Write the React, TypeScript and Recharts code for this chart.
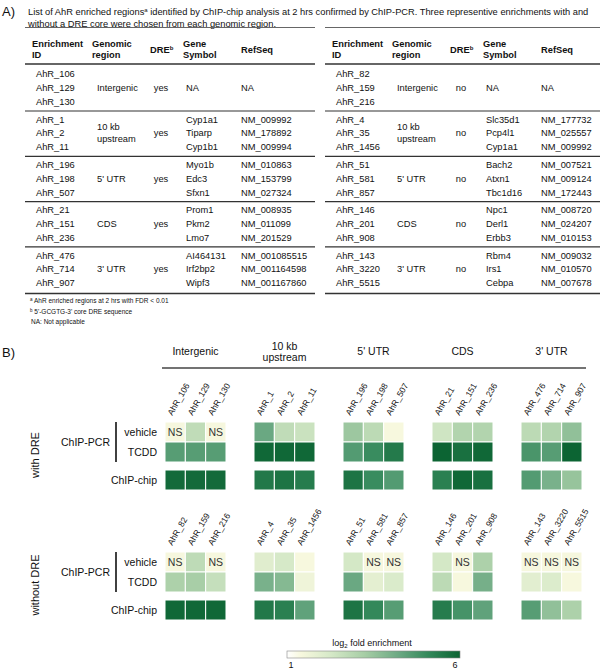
import React from "react";
import { ScatterChart, Scatter, XAxis, YAxis } from "recharts";

const FONT = "'Liberation Sans', Arial, Helvetica, sans-serif";

// genomic regions: table column and heatmap groups
const REGIONS = ["Intergenic", "10 kb\nupstream", "5' UTR", "CDS", "3' UTR"];
const ROW_NAMES = ["vehicle", "TCDD", "ChIP-chip"];

const DRE_IDS = ["AhR_106", "AhR_129", "AhR_130", "AhR_1", "AhR_2", "AhR_11", "AhR_196", "AhR_198", "AhR_507", "AhR_21", "AhR_151", "AhR_236", "AhR_476", "AhR_714", "AhR_907"];
const DRE_GENES = ["", "NA", "", "Cyp1a1", "Tiparp", "Cyp1b1", "Myo1b", "Edc3", "Sfxn1", "Prom1", "Pkm2", "Lmo7", "AI464131", "Irf2bp2", "Wipf3"];
const DRE_REFSEQ = ["", "NA", "", "NM_009992", "NM_178892", "NM_009994", "NM_010863", "NM_153799", "NM_027324", "NM_008935", "NM_011099", "NM_201529", "NM_001085515", "NM_001164598", "NM_001167860"];

const NODRE_IDS = ["AhR_82", "AhR_159", "AhR_216", "AhR_4", "AhR_35", "AhR_1456", "AhR_51", "AhR_581", "AhR_857", "AhR_146", "AhR_201", "AhR_908", "AhR_143", "AhR_3220", "AhR_5515"];
const NODRE_GENES = ["", "NA", "", "Slc35d1", "Pcp4l1", "Cyp1a1", "Bach2", "Atxn1", "Tbc1d16", "Npc1", "Derl1", "Erbb3", "Rbm4", "Irs1", "Cebpa"];
const NODRE_REFSEQ = ["", "NA", "", "NM_177732", "NM_025557", "NM_009992", "NM_007521", "NM_009124", "NM_172443", "NM_008720", "NM_024207", "NM_010153", "NM_009032", "NM_010570", "NM_007678"];

// log2 fold enrichment, null = NS
const DRE_VEHICLE = [null, 2.7, null, 4.25, 2.7, 2.5, 3.4, 2.8, 1.4, 2.4, 3.0, 3.0, 2.8, 3.0, 3.6];
const DRE_TCDD = [4.55, 4.55, 4.55, 5.9, 5.9, 5.9, 4.6, 5.0, 5.45, 6.0, 5.7, 5.9, 4.75, 4.55, 6.0];
const DRE_CHIP = [5.85, 5.85, 5.85, 5.5, 5.6, 5.4, 5.6, 5.0, 4.6, 5.3, 5.9, 5.7, 4.6, 4.0, 3.5];
const NODRE_VEHICLE = [null, 2.75, null, 2.0, 2.25, 1.4, 2.3, null, null, 2.3, null, 3.1, null, null, null];
const NODRE_TCDD = [3.1, 3.2, 2.6, 4.0, 3.8, 1.6, 4.25, 1.9, 2.15, 2.8, 1.4, 4.05, 1.95, 2.1, 1.4];
const NODRE_CHIP = [5.9, 5.9, 5.9, 5.5, 5.3, 4.4, 5.6, 5.1, 4.55, 5.4, 4.8, 4.4, 4.55, 3.6, 3.1];

const LEGEND_RANGE = [1, 6];

// colour ramp (white -> pale yellow -> green)
const STOPS: [number, string][] = [
  [0, "#ffffff"],
  [0.08, "#f7f8de"],
  [0.25, "#d6e9c8"],
  [0.45, "#a6cda5"],
  [0.65, "#6aa882"],
  [0.82, "#33885a"],
  [1, "#0c6433"],
];
const NS_FILL = "#f6f7de";

const hexRgb = (h: string) => [1, 3, 5].map((i) => parseInt(h.slice(i, i + 2), 16));

function colorFor(v: number) {
  const t = Math.max(0, Math.min(1, (v - LEGEND_RANGE[0]) / (LEGEND_RANGE[1] - LEGEND_RANGE[0])));
  for (let i = 1; i < STOPS.length; i++) {
    if (t <= STOPS[i][0]) {
      const [t0, c0] = STOPS[i - 1];
      const [t1, c1] = STOPS[i];
      const f = (t - t0) / (t1 - t0);
      const a = hexRgb(c0);
      const b = hexRgb(c1);
      return `rgb(${a.map((x, k) => Math.round(x + (b[k] - x) * f)).join(",")})`;
    }
  }
  return STOPS[STOPS.length - 1][1];
}

// heatmap layout
const GROUP_PITCH = 89 / 20.33;
const ROW_POS = [0, 1, 2.4];
const CELL_W = 20.33;
const CELL_H = 20;
const cellX = (i: number) => Math.floor(i / 3) * GROUP_PITCH + (i % 3);

const CellShape = (props: any) => {
  const { cx, cy, payload } = props;
  const ns = payload.v == null;
  return (
    <g>
      <rect
        x={cx - CELL_W / 2}
        y={cy - CELL_H / 2}
        width={CELL_W}
        height={CELL_H}
        fill={ns ? NS_FILL : colorFor(payload.v)}
        stroke="#ffffff"
        strokeWidth={1}
      />
      {ns && (
        <text x={cx} y={cy + 3.8} textAnchor="middle" fontSize={10.5} fontFamily={FONT} fill="#333">
          NS
        </text>
      )}
    </g>
  );
};

const RowTick = (props: any) => {
  const { x, y, payload } = props;
  return (
    <text x={x} y={y} dy={3.8} textAnchor="end" fontSize={10.5} fontFamily={FONT} fill="#111">
      {ROW_NAMES[ROW_POS.indexOf(payload.value)]}
    </text>
  );
};

function Heatmap({ ids, rows, top }: { ids: string[]; rows: (number | null)[][]; top: number }) {
  const data = rows.flatMap((vals, r) => vals.map((v, i) => ({ x: cellX(i), y: ROW_POS[r], v })));
  const ticks = ids.map((_, i) => cellX(i));
  const ColTick = (p: any) => {
    const label = ids[ticks.indexOf(p.payload.value)];
    const x = p.x - 3;
    return (
      <text x={x} y={p.y} transform={`rotate(-60, ${x}, ${p.y})`} fontSize={8.5} fontFamily={FONT} fill="#111">
        {label}
      </text>
    );
  };
  return (
    <div style={{ position: "absolute", left: 0, top }}>
      <ScatterChart width={600} height={125} margin={{ top: 12, right: 18, bottom: 5, left: 0 }}>
        <XAxis
          type="number"
          dataKey="x"
          orientation="top"
          height={40}
          domain={[-0.5, 4 * GROUP_PITCH + 2.5]}
          allowDataOverflow
          ticks={ticks}
          interval={0}
          tickSize={0}
          tickMargin={6}
          axisLine={false}
          tickLine={false}
          tick={ColTick}
        />
        <YAxis
          type="number"
          dataKey="y"
          width={165}
          reversed
          domain={[-0.5, 2.9]}
          allowDataOverflow
          ticks={ROW_POS}
          interval={0}
          tickSize={0}
          tickMargin={8}
          axisLine={false}
          tickLine={false}
          tick={RowTick}
        />
        <Scatter data={data} shape={CellShape} isAnimationActive={false} />
      </ScatterChart>
    </div>
  );
}

// table (part A)
const ROW0 = 74;
const ROW_STEP = 13.8;
const GRP_STEP = 45.3;

function TableBlock({ x0, ids, dre, genes, refseq }: any) {
  const rules = [111, 156.3, 201.6, 246.9];
  return (
    <g fontFamily={FONT} fill="#111">
      <line x1={x0} x2={x0 + 290} y1={27.5} y2={27.5} stroke="#666" strokeWidth={1.2} />
      <g fontWeight="bold" fontSize={9.3}>
        <text x={x0 + 7} y={46.5}>Enrichment</text>
        <text x={x0 + 7} y={57.5}>ID</text>
        <text x={x0 + 67} y={46.5}>Genomic</text>
        <text x={x0 + 67} y={57.5}>region</text>
        <text x={x0 + 125} y={53}>
          DRE<tspan dy={-3} fontSize={6}>b</tspan>
        </text>
        <text x={x0 + 158} y={46.5}>Gene</text>
        <text x={x0 + 158} y={57.5}>Symbol</text>
        <text x={x0 + 216} y={53}>RefSeq</text>
      </g>
      <line x1={x0} x2={x0 + 290} y1={64} y2={64} stroke="#333" strokeWidth={1.6} />
      {rules.map((y) => (
        <line key={y} x1={x0} x2={x0 + 290} y1={y} y2={y} stroke="#333" strokeWidth={1.2} />
      ))}
      <line x1={x0} x2={x0 + 290} y1={293.5} y2={293.5} stroke="#333" strokeWidth={1.6} />
      <g fontSize={9.3}>
        {ids.map((id: string, i: number) => {
          const y = ROW0 + GRP_STEP * Math.floor(i / 3) + ROW_STEP * (i % 3) + 3.3;
          return (
            <g key={id}>
              <text x={x0 + 11} y={y}>{id}</text>
              <text x={x0 + 161} y={y}>{genes[i]}</text>
              <text x={x0 + 216} y={y}>{refseq[i]}</text>
            </g>
          );
        })}
        {REGIONS.map((r, g) => {
          const mid = ROW0 + GRP_STEP * g + ROW_STEP + 3.3;
          const lines = r.split("\n");
          return (
            <g key={r}>
              {lines.map((l, k) => (
                <text key={l} x={x0 + 72} y={mid + (k - (lines.length - 1) / 2) * 12}>
                  {l}
                </text>
              ))}
              <text x={x0 + 136} y={mid} textAnchor="middle">
                {dre}
              </text>
            </g>
          );
        })}
      </g>
    </g>
  );
}

function PanelLabels({ top, label }: { top: number; label: string }) {
  // top = y of first heatmap row
  return (
    <g fontFamily={FONT} fill="#111">
      <text transform={`translate(39, ${top + 33}) rotate(-90)`} textAnchor="middle" fontSize={11}>
        {label}
      </text>
      <text x={110} y={top + 23.8} textAnchor="end" fontSize={10.5}>
        ChIP-PCR
      </text>
      <line x1={116} x2={116} y1={top} y2={top + 40} stroke="#111" strokeWidth={1.6} />
    </g>
  );
}

export default function App() {
  return (
    <div style={{ position: "absolute", left: 0, top: 0, width: 600, height: 670, background: "#fff" }}>
      <Heatmap ids={DRE_IDS} rows={[DRE_VEHICLE, DRE_TCDD, DRE_CHIP]} top={370} />
      <Heatmap ids={NODRE_IDS} rows={[NODRE_VEHICLE, NODRE_TCDD, NODRE_CHIP]} top={500} />
      <svg
        width={600}
        height={670}
        style={{ position: "absolute", left: 0, top: 0, pointerEvents: "none" }}
      >
        <defs>
          <linearGradient id="ramp" x1="0" x2="1" y1="0" y2="0">
            {STOPS.map(([t, c]) => (
              <stop key={t} offset={t} stopColor={c} />
            ))}
          </linearGradient>
        </defs>
        <g fontFamily={FONT} fill="#111">
          <text x={2} y={16} fontSize={13}>A)</text>
          <text x={28} y={15} fontSize={9.3}>
            List of AhR enriched regions<tspan dy={-3} fontSize={6}>a</tspan>
            <tspan dy={3}> identified by ChIP-chip analysis at 2 hrs confirmed by ChIP-PCR. Three representive enrichments with and</tspan>
          </text>
          <text x={28} y={26.5} fontSize={9.3}>
            without a DRE core were chosen from each genomic region.
          </text>
        </g>
        <TableBlock x0={25} ids={DRE_IDS} dre="yes" genes={DRE_GENES} refseq={DRE_REFSEQ} />
        <TableBlock x0={325} ids={NODRE_IDS} dre="no" genes={NODRE_GENES} refseq={NODRE_REFSEQ} />
        <g fontFamily={FONT} fill="#111" fontSize={6.5}>
          <text x={30} y={303}>
            <tspan dy={-2} fontSize={4.5}>a</tspan>
            <tspan dy={2}> AhR enriched regions at 2 hrs with FDR &lt; 0.01</tspan>
          </text>
          <text x={30} y={313.5}>
            <tspan dy={-2} fontSize={4.5}>b</tspan>
            <tspan dy={2}> 5'-GCGTG-3' core DRE sequence</tspan>
          </text>
          <text x={31} y={324}>NA: Not applicable</text>
        </g>

        <g fontFamily={FONT} fill="#111">
          <text x={2} y={357} fontSize={13}>B)</text>
          {REGIONS.map((r, g) => {
            const cx = 165 + 89 * g + 30.5;
            const lines = r.split("\n");
            return lines.map((l, k) => (
              <text key={l} x={cx} y={355 + (k - (lines.length - 1) / 2) * 11} textAnchor="middle" fontSize={10.5}>
                {l}
              </text>
            ));
          })}
          <line x1={162} x2={586} y1={368} y2={368} stroke="#444" strokeWidth={1.3} />
        </g>
        <PanelLabels top={422} label="with DRE" />
        <PanelLabels top={552} label="without DRE" />

        <g fontFamily={FONT} fill="#111" fontSize={9}>
          <text x={372} y={646} textAnchor="middle">
            log<tspan dy={2} fontSize={6}>2</tspan>
            <tspan dy={-2}> fold enrichment</tspan>
          </text>
          <rect x={287} y={651} width={173} height={7} fill="url(#ramp)" stroke="#888" strokeWidth={0.6} />
          <text x={291} y={668} textAnchor="middle">{LEGEND_RANGE[0]}</text>
          <text x={455} y={668} textAnchor="middle">{LEGEND_RANGE[1]}</text>
        </g>
      </svg>
    </div>
  );
}
